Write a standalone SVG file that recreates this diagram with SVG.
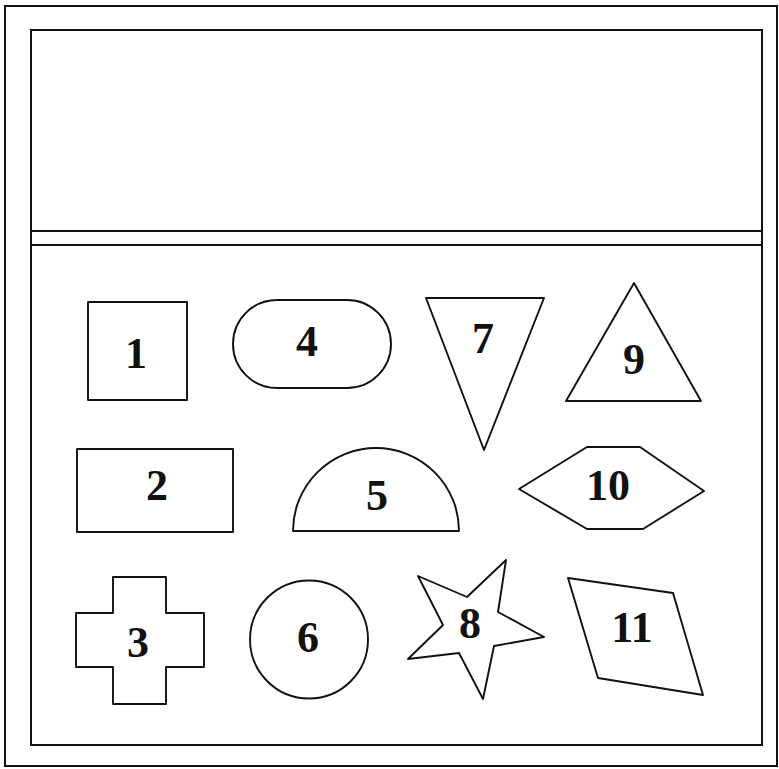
<svg xmlns="http://www.w3.org/2000/svg" width="779" height="769" viewBox="0 0 779 769">
<style>
.frame{fill:none;stroke:#111;stroke-width:2}
.shape{fill:#fff;stroke:#111;stroke-width:1.9;stroke-linejoin:round}
.lbl{font-family:"Liberation Serif","Times New Roman",serif;font-weight:bold;font-size:44px;fill:#111;text-anchor:middle}
</style>
<rect width="779" height="769" fill="#fff"/>
<g id="frame">
<rect class="frame" x="5" y="6" width="772" height="760"/>
<rect class="frame" x="31" y="30" width="731" height="715"/>
<line class="frame" x1="31" y1="231" x2="762" y2="231"/>
<line class="frame" x1="31" y1="245" x2="762" y2="245"/>
</g>
<g id="s1"><rect class="shape" x="88" y="302" width="99" height="98"/><text class="lbl" x="136" y="368">1</text></g>
<g id="s2"><rect class="shape" x="77" y="449" width="156" height="83"/><text class="lbl" x="157" y="500">2</text></g>
<g id="s3"><polygon class="shape" points="113,577 166,577 166,613 204,613 204,667 166,667 166,704 113,704 113,667 76,667 76,613 113,613"/><text class="lbl" x="138" y="657">3</text></g>
<g id="s4"><rect class="shape" x="233" y="300" width="158" height="88" rx="44" ry="44"/><text class="lbl" x="307" y="356">4</text></g>
<g id="s5"><path class="shape" d="M293,531 A83,83 0 0 1 459,531 Z"/><text class="lbl" x="377" y="510">5</text></g>
<g id="s6"><circle class="shape" cx="309" cy="639.5" r="59"/><text class="lbl" x="308" y="652">6</text></g>
<g id="s7"><polygon class="shape" points="426,298 544,298 484,450"/><text class="lbl" x="483" y="353">7</text></g>
<g id="s8"><polygon class="shape" points="506,560 498,612 544,637 494,646 483,699 459,653 408,659 443,625 418,576 467,597"/><text class="lbl" x="470" y="638">8</text></g>
<g id="s9"><polygon class="shape" points="634,283 701,401 566,401"/><text class="lbl" x="634" y="374">9</text></g>
<g id="s10"><polygon class="shape" points="519,489 587,447 640,447 704,491 643,529 587,529"/><text class="lbl" x="608" y="500">10</text></g>
<g id="s11"><polygon class="shape" points="568,578 673,593 703,695 598,678"/><text class="lbl" x="632" y="642">11</text></g>
</svg>
